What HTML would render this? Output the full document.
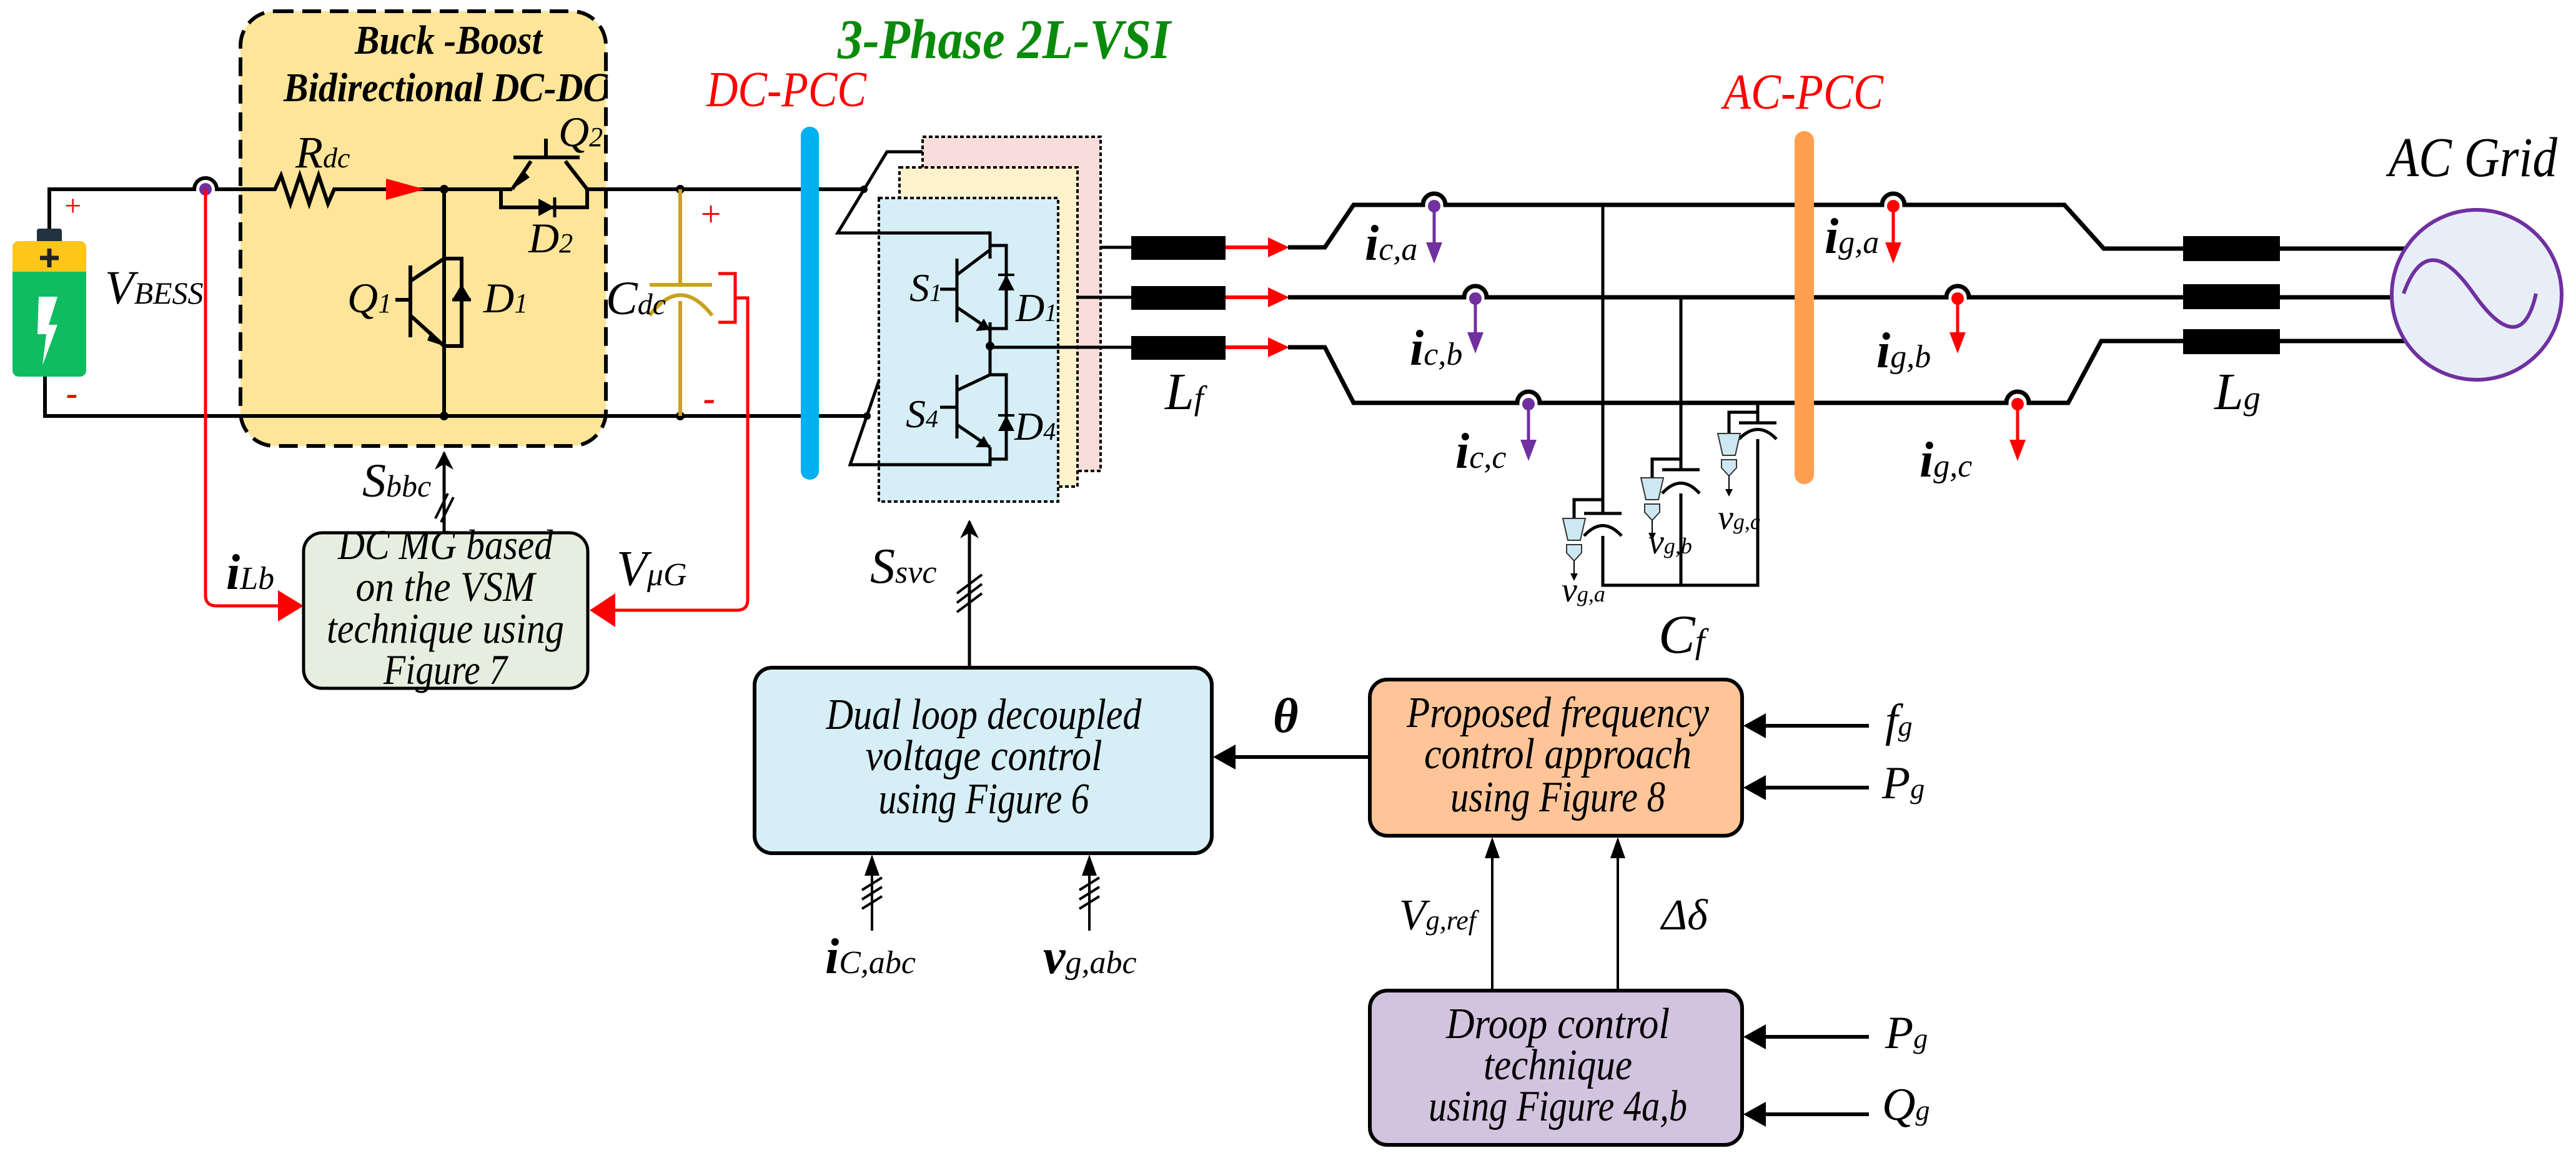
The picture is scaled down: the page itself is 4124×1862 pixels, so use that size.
<!DOCTYPE html>
<html><head><meta charset="utf-8"><style>
html,body{margin:0;padding:0;background:#fff}
svg{display:block}
text{font-family:"Liberation Serif",serif;font-style:italic}
</style></head><body>
<svg width="4124" height="1862" viewBox="0 0 4124 1862" xmlns="http://www.w3.org/2000/svg">
<defs>
<marker id="ab" viewBox="0 0 10 10" refX="9" refY="5" markerWidth="6" markerHeight="6" orient="auto"><path d="M0,0 L10,5 L0,10 L3,5z" fill="#000"/></marker>
</defs>

<!-- Buck-boost box -->
<rect x="385" y="18" width="585" height="696" rx="55" fill="#FEE599" stroke="#000" stroke-width="6" stroke-dasharray="30,14"/>
<text x="568" y="86" font-size="66" font-weight="bold" textLength="300" lengthAdjust="spacingAndGlyphs">Buck -Boost</text>
<text x="454" y="162" font-size="66" font-weight="bold" textLength="519" lengthAdjust="spacingAndGlyphs">Bidirectional DC-DC</text>

<!-- battery -->
<rect x="59" y="366" width="40" height="24" rx="4" fill="#22313F"/>
<rect x="20" y="386" width="118" height="217" rx="10" fill="#10BC60"/>
<path d="M20,435 V396 a10,10 0 0 1 10,-10 H128 a10,10 0 0 1 10,10 V435z" fill="#FFC61A"/>
<path d="M79,398 v30 M64,413 h30" stroke="#222" stroke-width="7"/>
<path d="M62,475 L92,475 L78,520 L92,520 L68,585 L74,535 L60,535z" fill="#fff"/>
<text x="100" y="345" font-size="48" fill="#e00" font-style="normal">+</text>
<text x="106" y="648" font-size="56" fill="#e00" font-style="normal" font-weight="bold">-</text>
<text x="168" y="486" font-size="76">V<tspan font-size="50">BESS</tspan></text>

<!-- DC wires -->
<g stroke="#000" stroke-width="6" fill="none">
<path d="M79,366 V303 H311 a18,18 0 0 1 36,0 H440 l10,-22 l15,45 l15,-45 l15,45 l15,-45 l15,45 l10,-23 H820"/>
<path d="M72,603 V666 H1388"/>
<path d="M711,303 V666"/>
<path d="M711,414 H739 V554 H711"/>
<path d="M657,425 V540 M633,480 H657 M657,450 L711,414 M657,505 L711,554"/>
<path d="M820,303 L850,258 M905,258 L940,303 M822,252 H928 M874,252 V222"/>
<path d="M802,303 V332 H940 V303 M940,303 H1383"/>
</g>
<path d="M724,480 L739,455 L754,480z" fill="#000"/>
<path d="M724,480 H754" stroke="#000" stroke-width="5"/>
<path d="M862,318 L888,332 L862,346z" fill="#000"/>
<path d="M888,316 V348" stroke="#000" stroke-width="5"/>
<path d="M690,530 L711,554 L684,545z" fill="#000"/>
<path d="M820,303 L838,273 L848,284z" fill="#000"/>
<path d="M618,286 L680,303 L618,320z" fill="#f00"/>
<circle cx="711" cy="303" r="7"/><circle cx="711" cy="666" r="7"/>
<circle cx="1089" cy="303" r="7"/><circle cx="1089" cy="666" r="7"/>
<circle cx="329" cy="303" r="10" fill="#7030A0"/>
<text x="473" y="268" font-size="72">R<tspan font-size="46">dc</tspan></text>
<text x="894" y="234" font-size="68">Q<tspan font-size="44">2</tspan></text>
<text x="846" y="404" font-size="68">D<tspan font-size="44">2</tspan></text>
<text x="556" y="500" font-size="68">Q<tspan font-size="44">1</tspan></text>
<text x="774" y="500" font-size="68">D<tspan font-size="44">1</tspan></text>

<!-- Cdc -->
<g stroke="#C9A21E" stroke-width="6" fill="none">
<path d="M1089,303 V456 M1040,456 H1140 M1089,482 V666 M1040,505 Q1089,440 1140,505"/>
</g>
<text x="970" y="503" font-size="76">C<tspan font-size="48">dc</tspan></text>
<text x="1118" y="362" font-size="58" fill="#e00" font-style="normal">+</text>
<text x="1126" y="657" font-size="58" fill="#e00" font-style="normal" font-weight="bold">-</text>
<path d="M1150,438 H1177 V516 H1150 M1177,477 H1197 V960 q0,17 -17,17 H960" stroke="#f00" stroke-width="5" fill="none"/>
<path d="M944,977 L985,950 L985,1004z" fill="#f00"/>
<path d="M329,303 V953 q0,17 17,17 H450" stroke="#f00" stroke-width="5" fill="none"/>
<path d="M486,970 L445,945 L445,995z" fill="#f00"/>
<text x="362" y="943" font-size="80" font-weight="bold">i<tspan font-size="52" font-weight="normal">Lb</tspan></text>
<text x="987" y="937" font-size="80">V<tspan font-size="52">μG</tspan></text>

<!-- DC MG box -->
<rect x="486" y="853" width="455" height="249" rx="30" fill="#E6EFDF" stroke="#000" stroke-width="5"/>
<g font-size="68" text-anchor="middle">
<text x="713" y="895" textLength="344" lengthAdjust="spacingAndGlyphs">DC MG based</text>
<text x="713" y="962" textLength="287" lengthAdjust="spacingAndGlyphs">on the VSM</text>
<text x="713" y="1029" textLength="380" lengthAdjust="spacingAndGlyphs">technique using</text>
<text x="713" y="1095" textLength="198" lengthAdjust="spacingAndGlyphs">Figure 7</text>
</g>
<path d="M711,853 V725" stroke="#000" stroke-width="5" marker-end="url(#ab)"/>
<path d="M697,830 L717,790 M706,836 L726,796" stroke="#000" stroke-width="4"/>
<text x="580" y="795" font-size="76">S<tspan font-size="50">bbc</tspan></text>

<!-- DC PCC -->
<text x="1131" y="170" font-size="80" fill="#f00" textLength="256" lengthAdjust="spacingAndGlyphs">DC-PCC</text>
<rect x="1282" y="203" width="29" height="565" rx="14" fill="#00B0F0"/>
<text x="1341" y="93" font-size="90" font-weight="bold" fill="#0A8A0A" textLength="533" lengthAdjust="spacingAndGlyphs">3-Phase 2L-VSI</text>

<!-- VSI boxes -->
<rect x="1477" y="219" width="285" height="535" fill="#F8DDDA" stroke="#000" stroke-width="4" stroke-dasharray="6,4"/>
<rect x="1440" y="268" width="285" height="511" fill="#FEF2CC" stroke="#000" stroke-width="4" stroke-dasharray="6,4"/>
<rect x="1407" y="317" width="287" height="486" fill="#D6EEF5" stroke="#000" stroke-width="4" stroke-dasharray="6,4"/>
<g stroke="#000" stroke-width="5" fill="none">
<path d="M1477,243 H1420 L1341,373 H1585 V414"/>
<path d="M1585,393 H1611 V526 H1585 M1585,516 V600 M1532,414 V516 M1505,463 H1532 M1532,440 L1585,400 M1532,492 L1585,528"/>
<path d="M1585,600 H1611 V735 H1585 M1532,600 V702 M1505,652 H1532 M1532,625 L1585,600 M1532,680 L1585,716 M1585,716 V744 H1361 L1407,610"/>
<path d="M1585,556 H1811 M1762,396 H1811 M1725,476 H1811"/>
</g>
<path d="M1598,465 L1611,440 L1624,465z M1598,690 L1611,665 L1624,690z" fill="#000"/>
<path d="M1598,440 H1624 M1598,665 H1624" stroke="#000" stroke-width="4"/>
<path d="M1562,530 L1585,528 L1575,510z M1562,716 L1585,716 L1575,698z" fill="#000"/>
<circle cx="1585" cy="554" r="7"/>
<circle cx="1383" cy="303" r="6"/><circle cx="1388" cy="666" r="6"/>
<text x="1456" y="482" font-size="64">S<tspan font-size="40">1</tspan></text>
<text x="1626" y="514" font-size="64">D<tspan font-size="40">1</tspan></text>
<text x="1450" y="684" font-size="64">S<tspan font-size="40">4</tspan></text>
<text x="1624" y="704" font-size="64">D<tspan font-size="40">4</tspan></text>
<rect x="1811" y="378" width="151" height="38" fill="#000"/>
<rect x="1811" y="458" width="151" height="38" fill="#000"/>
<rect x="1811" y="538" width="151" height="38" fill="#000"/>
<g stroke="#f00" stroke-width="6"><path d="M1962,396 H2030 M1962,476 H2030 M1962,556 H2030"/></g>
<path d="M2030,380 L2064,396 L2030,412z M2030,460 L2064,476 L2030,492z M2030,540 L2064,556 L2030,572z" fill="#f00"/>
<text x="1865" y="655" font-size="84">L<tspan font-size="54">f</tspan></text>

<!-- AC phases -->
<g stroke="#000" stroke-width="7" fill="none">
<path d="M2062,396 H2121 L2167,328 H2278 a18,18 0 0 1 36,0 H3013 a18,18 0 0 1 36,0 H3305 L3368,398 H3851"/>
<path d="M2062,476 H2344 a18,18 0 0 1 36,0 H3116 a18,18 0 0 1 36,0 H3829"/>
<path d="M2062,556 H2121 L2167,645 H2429 a18,18 0 0 1 36,0 H3212 a18,18 0 0 1 36,0 H3311 L3364,546 H3852"/>
</g>
<g stroke="#000" stroke-width="5" fill="none">
<path d="M2566,328 V822 M2566,858 V937 H2814 V703 M2814,677 V645 M2691,476 V752 M2691,790 V937"/>
<path d="M2536,822 H2596 M2536,858 Q2566,825 2596,858"/>
<path d="M2661,752 H2721 M2661,790 Q2691,757 2721,790"/>
<path d="M2784,677 H2844 M2784,703 Q2814,672 2844,703"/>
<path d="M2566,800 H2520 V830 M2691,735 H2645 V765 M2814,660 H2768 V694"/>
</g>
<g fill="#CDE8F2" stroke="#333" stroke-width="2">
<path d="M2502,830 H2538 L2530,865 H2510z M2508,872 H2532 V885 L2520,898 L2508,885z"/>
<path d="M2627,765 H2663 L2655,800 H2635z M2633,807 H2657 V820 L2645,833 L2633,820z"/>
<path d="M2750,694 H2786 L2778,729 H2758z M2756,736 H2780 V749 L2768,762 L2756,749z"/>
</g>
<g stroke="#000" stroke-width="2"><path d="M2520,898 V920 M2645,833 V855 M2768,762 V785"/></g>
<path d="M2514,918 L2520,930 L2526,918z M2639,853 L2645,865 L2651,853z M2762,783 L2768,795 L2774,783z" fill="#000"/>
<text x="2500" y="963" font-size="56">v<tspan font-size="36">g,a</tspan></text>
<text x="2639" y="886" font-size="56">v<tspan font-size="36">g,b</tspan></text>
<text x="2750" y="847" font-size="56">v<tspan font-size="36">g,c</tspan></text>
<text x="2655" y="1045" font-size="88">C<tspan font-size="56">f</tspan></text>

<rect x="2873" y="210" width="31" height="565" rx="15" fill="#FF9F4F"/>
<text x="2759" y="174" font-size="80" fill="#f00" textLength="256" lengthAdjust="spacingAndGlyphs">AC-PCC</text>

<!-- current sensors -->
<g stroke-width="5">
<path d="M2296,328 V395 M2362,476 V540 M2447,645 V712" stroke="#7030A0"/>
<path d="M3031,328 V395 M3134,476 V540 M3230,645 V712" stroke="#f00"/>
</g>
<g fill="#7030A0"><circle cx="2296" cy="330" r="10"/><circle cx="2362" cy="478" r="10"/><circle cx="2447" cy="647" r="10"/>
<path d="M2283,388 L2296,422 L2309,388z M2349,532 L2362,566 L2375,532z M2434,704 L2447,738 L2460,704z"/></g>
<g fill="#f00"><circle cx="3031" cy="330" r="10"/><circle cx="3134" cy="478" r="10"/><circle cx="3230" cy="647" r="10"/>
<path d="M3018,388 L3031,422 L3044,388z M3121,532 L3134,566 L3147,532z M3217,704 L3230,738 L3243,704z"/></g>
<g font-size="80" font-weight="bold">
<text x="2185" y="416">i<tspan font-size="52" font-weight="normal">c,a</tspan></text>
<text x="2257" y="584">i<tspan font-size="52" font-weight="normal">c,b</tspan></text>
<text x="2330" y="749">i<tspan font-size="52" font-weight="normal">c,c</tspan></text>
<text x="2921" y="405">i<tspan font-size="52" font-weight="normal">g,a</tspan></text>
<text x="3004" y="588">i<tspan font-size="52" font-weight="normal">g,b</tspan></text>
<text x="3073" y="763">i<tspan font-size="52" font-weight="normal">g,c</tspan></text>
</g>
<rect x="3495" y="378" width="155" height="40" fill="#000"/>
<rect x="3495" y="455" width="155" height="40" fill="#000"/>
<rect x="3495" y="527" width="155" height="40" fill="#000"/>
<text x="3545" y="655" font-size="84">L<tspan font-size="54">g</tspan></text>
<circle cx="3965" cy="472" r="136" fill="#E8EEF7" stroke="#7030A0" stroke-width="6"/>
<path d="M3848,470 C3880,380 3925,420 3960,470 C3995,520 4040,560 4060,470" stroke="#7030A0" stroke-width="6" fill="none"/>
<text x="3824" y="282" font-size="90" textLength="270" lengthAdjust="spacingAndGlyphs">AC Grid</text>

<!-- Ssvc -->
<path d="M1552,1069 V835" stroke="#000" stroke-width="5" marker-end="url(#ab)"/>
<path d="M1532,950 L1572,920 M1532,965 L1572,935 M1532,980 L1572,950" stroke="#000" stroke-width="4"/>
<text x="1393" y="933" font-size="80">S<tspan font-size="52">svc</tspan></text>

<!-- Dual loop box -->
<rect x="1208" y="1069" width="732" height="297" rx="28" fill="#D6EEF5" stroke="#000" stroke-width="6"/>
<g font-size="70" text-anchor="middle">
<text x="1575" y="1167" textLength="505" lengthAdjust="spacingAndGlyphs">Dual loop decoupled</text>
<text x="1575" y="1233" textLength="379" lengthAdjust="spacingAndGlyphs">voltage control</text>
<text x="1575" y="1302" textLength="337" lengthAdjust="spacingAndGlyphs">using Figure 6</text>
</g>
<rect x="2193" y="1088" width="596" height="250" rx="28" fill="#FFC599" stroke="#000" stroke-width="6"/>
<g font-size="70" text-anchor="middle">
<text x="2494" y="1164" textLength="484" lengthAdjust="spacingAndGlyphs">Proposed frequency</text>
<text x="2494" y="1230" textLength="428" lengthAdjust="spacingAndGlyphs">control approach</text>
<text x="2494" y="1299" textLength="344" lengthAdjust="spacingAndGlyphs">using Figure 8</text>
</g>
<rect x="2193" y="1586" width="596" height="247" rx="28" fill="#D2C3DE" stroke="#000" stroke-width="6"/>
<g font-size="70" text-anchor="middle">
<text x="2494" y="1662" textLength="358" lengthAdjust="spacingAndGlyphs">Droop control</text>
<text x="2494" y="1728" textLength="238" lengthAdjust="spacingAndGlyphs">technique</text>
<text x="2494" y="1794" textLength="414" lengthAdjust="spacingAndGlyphs">using Figure 4a,b</text>
</g>
<g stroke="#000" stroke-width="6">
<path d="M2193,1212 H1975 M2992,1162 H2820 M2992,1261 H2820 M2992,1660 H2820 M2992,1784 H2820"/>
</g>
<path d="M1942,1212 L1978,1192 L1978,1232z M2791,1162 L2827,1142 L2827,1182z M2791,1261 L2827,1241 L2827,1281z M2791,1660 L2827,1640 L2827,1680z M2791,1784 L2827,1764 L2827,1804z" fill="#000"/>
<g stroke="#000" stroke-width="4"><path d="M2389,1586 V1370 M2590,1586 V1370 M1396,1490 V1395 M1744,1490 V1395"/></g>
<path d="M2389,1340 L2377,1374 L2401,1374z M2590,1340 L2578,1374 L2602,1374z M1396,1368 L1384,1402 L1408,1402z M1744,1368 L1732,1402 L1756,1402z" fill="#000"/>
<path d="M1380,1425 L1412,1405 M1380,1440 L1412,1420 M1380,1455 L1412,1435 M1728,1425 L1760,1405 M1728,1440 L1760,1420 M1728,1455 L1760,1435" stroke="#000" stroke-width="4"/>
<text x="2038" y="1172" font-size="78" font-weight="bold">θ</text>
<text x="3018" y="1178" font-size="74">f<tspan font-size="46">g</tspan></text>
<text x="3013" y="1278" font-size="74">P<tspan font-size="46">g</tspan></text>
<text x="3018" y="1678" font-size="74">P<tspan font-size="46">g</tspan></text>
<text x="3013" y="1793" font-size="74">Q<tspan font-size="46">g</tspan></text>
<text x="2240" y="1488" font-size="70">V<tspan font-size="44">g,ref</tspan></text>
<text x="2660" y="1488" font-size="70">Δδ</text>
<text x="1321" y="1558" font-size="80" font-weight="bold">i<tspan font-size="52" font-weight="normal">C,abc</tspan></text>
<text x="1670" y="1558" font-size="80" font-weight="bold">v<tspan font-size="52" font-weight="normal">g,abc</tspan></text>
</svg>
</body></html>
